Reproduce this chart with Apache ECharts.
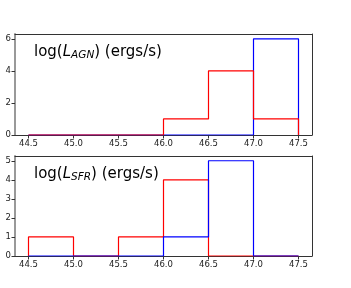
<!DOCTYPE html>
<html><head><meta charset="utf-8">
<script src="https://cdn.jsdelivr.net/npm/echarts@6/dist/echarts.min.js"></script>
<style>html,body{margin:0;padding:0;background:#fff}#c{width:351px;height:288px}</style>
</head><body><div id="c"></div>
<script>
const binEdges = [44.5, 45.0, 45.5, 46.0, 46.5, 47.0, 47.5];
const xTicks = [44.5, 45.0, 45.5, 46.0, 46.5, 47.0, 47.5];
const agnBlue = [0, 0, 0, 0, 0, 6];
const agnRed  = [0, 0, 0, 1, 4, 1];
const sfrBlue = [0, 0, 0, 1, 5, 0];
const sfrRed  = [1, 0, 1, 4, 0, 0];
const agnYTicks = [0, 2, 4, 6];
const sfrYTicks = [0, 1, 2, 3, 4, 5];

function stepPts(vals) {
  const pts = [[binEdges[0], 0]];
  for (let i = 0; i < vals.length; i++) {
    pts.push([binEdges[i], vals[i]]);
    pts.push([binEdges[i + 1], vals[i]]);
  }
  pts.push([binEdges[binEdges.length - 1], 0]);
  return pts;
}

const fontFam = 'DejaVu Sans';
const frame = '#333';
function xAx(gi) {
  return {
    type: 'value', gridIndex: gi, min: 44.35, max: 47.65,
    axisLine: {onZero: false, lineStyle: {color: frame, width: 1}},
    axisTick: {show: true, customValues: xTicks, length: 3.5, lineStyle: {color: frame}},
    axisLabel: {customValues: xTicks, formatter: v => v.toFixed(1), color: '#222', fontSize: 8.5, fontFamily: fontFam, margin: 4},
    splitLine: {show: false}
  };
}
function xAxTop(gi) {
  return {
    type: 'value', gridIndex: gi, position: 'top', min: 44.35, max: 47.65,
    axisLine: {show: true, onZero: false, lineStyle: {color: frame, width: 1}},
    axisTick: {show: false}, axisLabel: {show: false}, splitLine: {show: false}
  };
}
function yAx(gi, max, ticks) {
  return {
    type: 'value', gridIndex: gi, min: 0, max: max,
    axisLine: {show: true, onZero: false, lineStyle: {color: '#999', width: 2}},
    axisTick: {show: true, customValues: ticks, length: 3.5, lineStyle: {color: frame}},
    axisLabel: {customValues: ticks, color: '#222', fontSize: 8.5, fontFamily: fontFam, margin: 4},
    splitLine: {show: false}
  };
}
function yAxRight(gi, max) {
  return {
    type: 'value', gridIndex: gi, position: 'right', min: 0, max: max,
    axisLine: {show: true, onZero: false, lineStyle: {color: frame, width: 1}},
    axisTick: {show: false}, axisLabel: {show: false}, splitLine: {show: false}
  };
}
function ser(xi, yi, vals, color, z) {
  return {
    type: 'line', xAxisIndex: xi, yAxisIndex: yi, data: stepPts(vals),
    symbol: 'none', lineStyle: {color: color, width: 1.2}, z: z, animation: false
  };
}
const richT = {
  n: {fontSize: 15, fontFamily: fontFam, fontWeight: 'normal', color: '#000'},
  i: {fontSize: 15, fontFamily: fontFam, fontWeight: 'normal', fontStyle: 'italic', color: '#000'},
  s: {fontSize: 10.5, fontFamily: fontFam, fontWeight: 'normal', fontStyle: 'italic', color: '#000', padding: [7, 0, 0, 0]}
};
const chart = echarts.init(document.getElementById('c'), null, {renderer: 'canvas'});
chart.setOption({
  animation: false,
  backgroundColor: '#fff',
  grid: [
    {left: 15, top: 34, width: 297, height: 101},
    {left: 15, top: 156, width: 297, height: 100}
  ],
  title: [
    {text: '{n|log(}{i|L}{s|AGN}{n|) (ergs/s)}', left: 29, top: 38, textStyle: {fontWeight: 'normal', rich: richT}},
    {text: '{n|log(}{i|L}{s|SFR}{n|) (ergs/s)}', left: 29, top: 160, textStyle: {fontWeight: 'normal', rich: richT}}
  ],
  xAxis: [xAx(0), xAx(1), xAxTop(0), xAxTop(1)],
  yAxis: [yAx(0, 6.3, agnYTicks), yAx(1, 5.25, sfrYTicks), yAxRight(0, 6.3), yAxRight(1, 5.25)],
  series: [
    ser(0, 0, agnBlue, '#0000ff', 2),
    ser(0, 0, agnRed, '#ff0000', 3),
    ser(1, 1, sfrRed, '#ff0000', 2),
    ser(1, 1, sfrBlue, '#0000ff', 3)
  ]
});
</script></body></html>
